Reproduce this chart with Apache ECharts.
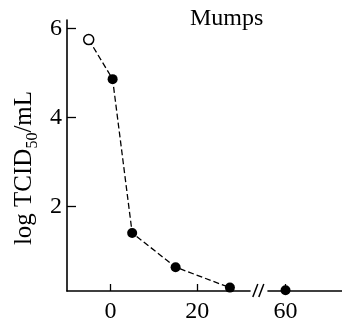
<!DOCTYPE html>
<html><head><meta charset="utf-8">
<script src="https://cdn.jsdelivr.net/npm/echarts@6/dist/echarts.min.js"></script>
<style>html,body{margin:0;padding:0;background:#fff}#c{width:342px;height:324px}</style>
</head><body><div id="c"></div>
<script>
const xTickValues = [0, 20, 60];
const yTickValues = [2, 4, 6];
const earlyDays = [-5, 0.5, 5, 15, 27.5];
const earlyTiters = [5.75, 4.86, 1.40, 0.63, 0.17];
const openPointCount = 1; // first point drawn as open circle
const lateDays = [60];
const lateTiters = [0.11];
const titleText = 'Mumps';

const FONT = 'Liberation Serif';
const chart = echarts.init(document.getElementById('c'), null, {renderer: 'canvas'});

const lineData = earlyDays.map((d, i) => {
  const item = {value: [d, earlyTiters[i]]};
  if (i < openPointCount) {
    item.itemStyle = {color: '#fff', borderColor: '#000', borderWidth: 1.5};
    item.symbolSize = 10;
  }
  return item;
});

chart.setOption({
  animation: false,
  backgroundColor: '#fff',
  title: {text: titleText, left: 185, top: 2,
    textStyle: {fontFamily: FONT, fontSize: 24, fontWeight: 'normal', color: '#000'}},
  grid: {left: 67, right: 0, top: 20, bottom: 32, containLabel: false},
  xAxis: {
    type: 'value', min: -10, max: 73,
    breaks: [{start: 32, end: 56, gap: 4.3}],
    breakArea: {show: false},
    axisLine: {show: true, onZero: false, lineStyle: {color: '#000', width: 1.6}},
    axisTick: {show: true, inside: true, length: 7, customValues: xTickValues, lineStyle: {color: '#000', width: 1.3}},
    axisLabel: {customValues: xTickValues, margin: 9, color: '#000', fontFamily: FONT, fontSize: 24},
    splitLine: {show: false}
  },
  yAxis: {
    type: 'value', min: 0.094, max: 6.19,
    axisLine: {show: true, onZero: false, lineStyle: {color: '#000', width: 1.6}},
    axisTick: {show: true, inside: true, length: 9, customValues: yTickValues, lineStyle: {color: '#000', width: 1.3}},
    axisLabel: {customValues: yTickValues, margin: 5, color: '#000', fontFamily: FONT, fontSize: 24},
    splitLine: {show: false}
  },
  series: [
    {type: 'line', data: lineData, symbol: 'circle', symbolSize: 10,
     itemStyle: {color: '#000', opacity: 1}, lineStyle: {color: '#000', width: 1.3, type: [6, 3]}, z: 3},
    {type: 'scatter', data: lateDays.map((d, i) => [d, lateTiters[i]]), symbol: 'circle', symbolSize: 10,
     itemStyle: {color: '#000', opacity: 1}, z: 3}
  ]
});

// break marks "//" on the x axis, placed from the axis scale
const xa = chart.convertToPixel({xAxisIndex: 0}, 32);
const xb = chart.convertToPixel({xAxisIndex: 0}, 56);
const yAxisPix = chart.convertToPixel({yAxisIndex: 0}, 0.094);
const mid = (xa + xb) / 2;
chart.setOption({
  graphic: [
    {type: 'line', shape: {x1: mid - 6, y1: yAxisPix + 6, x2: mid - 1, y2: yAxisPix - 7}, style: {stroke: '#000', lineWidth: 1.5}},
    {type: 'line', shape: {x1: mid + 0, y1: yAxisPix + 6, x2: mid + 5, y2: yAxisPix - 7}, style: {stroke: '#000', lineWidth: 1.5}},
    {type: 'text', x: 24, y: 168, rotation: Math.PI / 2,
     style: {text: '{a|log TCID}{s|50}{a|/mL}', align: 'center', verticalAlign: 'middle', fill: '#000',
       rich: {a: {fontFamily: FONT, fontSize: 25, lineHeight: 28},
              s: {fontFamily: FONT, fontSize: 16, lineHeight: 16, verticalAlign: 'bottom', padding: [0, 0, -3, 0]}}}}
  ]
});
</script></body></html>
